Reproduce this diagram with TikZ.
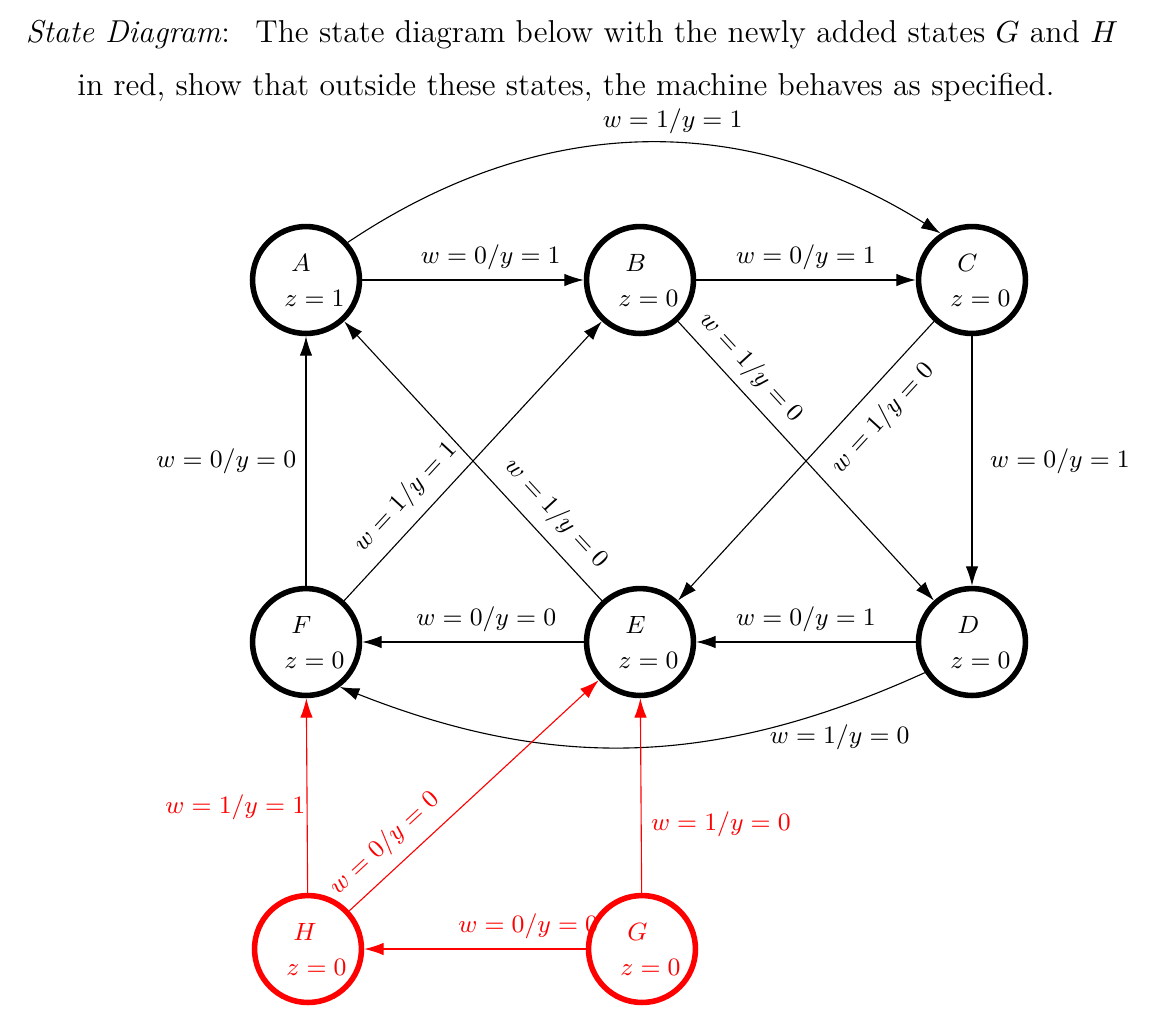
\documentclass[tikz,border=0pt]{standalone}
\usepackage{amsmath}
\usepackage{xcolor}
\usetikzlibrary{arrows.meta, positioning, calc}

% letter on top, output below and shifted right
\newcommand{\stlabel}[2]{\hspace*{8.6pt}$#1$\\\hspace*{6.1pt}$z=#2$}

\begin{document}
\begin{tikzpicture}[
    x=0.36pt, y=0.36pt,
    >={Latex[length=7pt,width=4.5pt]},
    state/.style={circle, draw, line width=2pt, minimum size=38.5pt, inner sep=0pt, align=left, font=\fontsize{9}{12.6}\selectfont},
    newstate/.style={state, red},
    lbl/.style={font=\fontsize{9}{11}\selectfont},
    title/.style={anchor=base, font=\fontsize{11.4}{14}\selectfont}
]
\useasboundingbox (0,0) rectangle (1162,-1022);

\node [title] (title1) at (572,-42) {\textit{State Diagram}:\hspace{0.8em}The state diagram below with the newly added states $G$ and $H$};
\node [title] (title2) at (566,-95) {in red, show that outside these states, the machine behaves as specified.};

% old machine
\node [state] (A) at (306,-280) {\stlabel{A}{1}};
\node [state] (B) at (640,-280) {\stlabel{B}{0}};
\node [state] (C) at (972,-280) {\stlabel{C}{0}};
\node [state] (F) at (306,-642) {\stlabel{F}{0}};
\node [state] (E) at (640,-642) {\stlabel{E}{0}};
\node [state] (D) at (972,-642) {\stlabel{D}{0}};

% added states
\node [newstate] (H) at (308,-949) {\stlabel{H}{0}};
\node [newstate] (G) at (642,-949) {\stlabel{G}{0}};

\draw [->] (A) -- node [lbl, above, pos=0.58] {$w=0/y=1$} (B);
\draw [->] (B) -- node [lbl, above] {$w=0/y=1$} (C);
\draw [->] (A.42) to [bend left=33] node [lbl, above, pos=0.55] {$w=1/y=1$} (C.124);
\draw [->] (F) -- node [lbl, left] {$w=0/y=0$} (A);
\draw [->] (C) -- node [lbl, right=3pt] {$w=0/y=1$} (D);
\draw [->] (D) -- node [lbl, above] {$w=0/y=1$} (E);
\draw [->] (E) -- node [lbl, above, pos=0.44] {$w=0/y=0$} (F);
\draw [->] (D.213) to [bend left=23] node [lbl, below=3pt, pos=0.14] {$w=1/y=0$} (F.-53);
\draw [->] (F) -- node [lbl, above=1pt, sloped, pos=0.31] {$w=1/y=1$} (B);
\draw [->] (E) -- node [lbl, above=1pt, sloped, pos=0.25] {$w=1/y=0$} (A);
\draw [->] (B) -- node [lbl, above, sloped, pos=0.22] {$w=1/y=0$} (D);
\draw [->] (C) -- node [lbl, below=2pt, sloped, pos=0.28] {$w=1/y=0$} (E);

% red transitions
\draw [->, red] (H) -- node [lbl, left, inner sep=0.5pt, pos=0.44] {$w=1/y=1$} (F);
\draw [->, red] (H) -- node [lbl, above=1pt, sloped, pos=0.21] {$w=0/y=0$} (E);
\draw [->, red] (G) -- node [lbl, right, pos=0.35] {$w=1/y=0$} (E);
\draw [->, red] (G) -- node [lbl, above, pos=0.26] {$w=0/y=0$} (H);
\end{tikzpicture}
\end{document}
